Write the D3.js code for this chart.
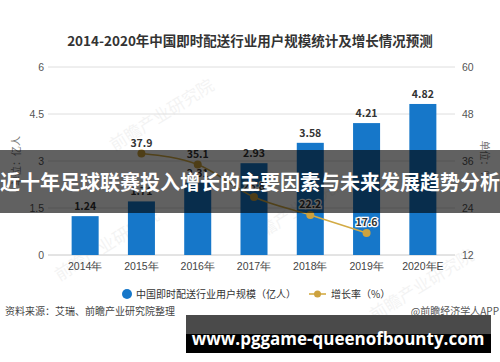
<!DOCTYPE html>
<html>
<head>
<meta charset="utf-8">
<script src="https://cdn.jsdelivr.net/npm/d3@7"></script>
<style>
  html, body { margin: 0; padding: 0; background: #fff; }
  svg { display: block; font-family: "Noto Sans CJK SC", "Noto Sans", sans-serif; }
</style>
</head>
<body>
<svg width="500" height="362"></svg>
<script>
const years = ['2014年', '2015年', '2016年', '2017年', '2018年', '2019年', '2020年E'];
const users = [1.24, 1.71, 2.31, 2.93, 3.58, 4.21, 4.82];
const growthYears = ['2015年', '2016年', '2017年', '2018年', '2019年'];
const growth = [37.9, 35.1, 26.8, 22.2, 17.6];
const leftTicks = [0, 1.5, 3, 4.5, 6];
const rightTicks = [12, 24, 36, 48, 60];

const svg = d3.select('svg');

const x = d3.scaleBand().domain(years).range([57, 451]).paddingInner(0.52).paddingOuter(0.26);
const yL = d3.scaleLinear().domain([0, 6]).range([255, 67]);
const yR = d3.scaleLinear().domain([12, 60]).range([255, 67]);

// title
svg.append('text')
  .attr('x', 250).attr('y', 46)
  .attr('text-anchor', 'middle')
  .attr('font-size', 13.5).attr('font-weight', 'bold')
  .attr('fill', '#333')
  .text('2014-2020年中国即时配送行业用户规模统计及增长情况预测');

// faint watermarks
[[165, 120], [300, 215], [425, 290], [110, 250]].forEach(([wx, wy]) => {
  svg.append('text')
    .attr('transform', `translate(${wx},${wy}) rotate(-32)`)
    .attr('text-anchor', 'middle')
    .attr('font-size', 17).attr('fill', '#000').attr('opacity', 0.045)
    .text('前瞻产业研究院');
});

// grid
svg.append('g').selectAll('line').data(leftTicks.slice(1))
  .enter().append('line')
  .attr('x1', 48).attr('x2', 455)
  .attr('y1', d => yL(d)).attr('y2', d => yL(d))
  .attr('stroke', '#dedede').attr('stroke-width', 1);

svg.append('line')
  .attr('x1', 48).attr('x2', 455)
  .attr('y1', yL(0)).attr('y2', yL(0))
  .attr('stroke', '#c8c8c8');

// left axis
const axL = svg.append('g')
  .attr('transform', 'translate(46,0)')
  .call(d3.axisLeft(yL).tickValues(leftTicks).tickSize(0).tickPadding(2).tickFormat(d => d));
axL.select('.domain').remove();
axL.selectAll('text').attr('font-size', 10.5).attr('fill', '#555').attr('font-family', 'inherit');

// right axis
const axR = svg.append('g')
  .attr('transform', 'translate(460,0)')
  .call(d3.axisRight(yR).tickValues(rightTicks).tickSize(0).tickPadding(2));
axR.select('.domain').remove();
axR.selectAll('text').attr('font-size', 10.5).attr('fill', '#555').attr('font-family', 'inherit');

// x axis labels
const axX = svg.append('g')
  .attr('transform', `translate(0,${yL(0)})`)
  .call(d3.axisBottom(x).tickSize(0).tickPadding(8));
axX.select('.domain').remove();
axX.selectAll('text').attr('font-size', 10.5).attr('fill', '#444').attr('font-family', 'inherit');

// axis titles
svg.append('text')
  .attr('transform', 'translate(20,161) rotate(-90)')
  .attr('text-anchor', 'middle')
  .attr('font-size', 10).attr('fill', '#777')
  .text('单位：亿人');
svg.append('text')
  .attr('transform', 'translate(481,160) rotate(90)')
  .attr('text-anchor', 'middle')
  .attr('font-size', 10).attr('fill', '#777')
  .text('单位：%');

// bars
svg.append('g').selectAll('rect').data(users)
  .enter().append('rect')
  .attr('x', (d, i) => x(years[i]))
  .attr('width', x.bandwidth())
  .attr('y', d => yL(d))
  .attr('height', d => yL(0) - yL(d))
  .attr('fill', '#1677c9');

svg.append('g').selectAll('text').data(users)
  .enter().append('text')
  .attr('x', (d, i) => x(years[i]) + x.bandwidth() / 2)
  .attr('y', d => yL(d) - 6)
  .attr('text-anchor', 'middle')
  .attr('font-size', 10.5).attr('font-weight', 'bold')
  .attr('fill', '#333')
  .text(d => d.toFixed(2));

// growth line
const lineGen = d3.line()
  .x((d, i) => x(growthYears[i]) + x.bandwidth() / 2)
  .y(d => yR(d))
  .curve(d3.curveMonotoneX);

svg.append('path')
  .datum(growth)
  .attr('d', lineGen)
  .attr('fill', 'none')
  .attr('stroke', '#d3ab45')
  .attr('stroke-width', 1.6);

svg.append('g').selectAll('circle').data(growth)
  .enter().append('circle')
  .attr('cx', (d, i) => x(growthYears[i]) + x.bandwidth() / 2)
  .attr('cy', d => yR(d))
  .attr('r', 4)
  .attr('fill', '#cda23e');

svg.append('g').selectAll('text').data(growth)
  .enter().append('text')
  .attr('x', (d, i) => x(growthYears[i]) + x.bandwidth() / 2)
  .attr('y', d => yR(d) - 7)
  .attr('text-anchor', 'middle')
  .attr('font-size', 10.5).attr('font-weight', 'bold')
  .attr('fill', '#333')
  .attr('stroke', '#fff').attr('stroke-width', 2.5)
  .attr('paint-order', 'stroke')
  .text(d => d.toFixed(1));

// legend
const lg = svg.append('g');
lg.append('circle').attr('cx', 127).attr('cy', 294).attr('r', 5).attr('fill', '#1677c9');
lg.append('text').attr('x', 136).attr('y', 298)
  .attr('font-size', 10).attr('fill', '#333')
  .text('中国即时配送行业用户规模（亿人）');
lg.append('line').attr('x1', 309).attr('x2', 326).attr('y1', 294).attr('y2', 294)
  .attr('stroke', '#d3ab45').attr('stroke-width', 1.6);
lg.append('circle').attr('cx', 317.5).attr('cy', 294).attr('r', 3.5).attr('fill', '#cda23e');
lg.append('text').attr('x', 331).attr('y', 298)
  .attr('font-size', 10).attr('fill', '#333')
  .text('增长率（%）');

// source
svg.append('text').attr('x', 5).attr('y', 315)
  .attr('font-size', 10).attr('fill', '#444')
  .text('资料来源：艾瑞、前瞻产业研究院整理');
svg.append('text').attr('x', 499).attr('y', 315)
  .attr('text-anchor', 'end')
  .attr('font-size', 10).attr('fill', '#555')
  .text('@前瞻经济学人APP');

// overlay banner
svg.append('rect')
  .attr('x', 0).attr('y', 150).attr('width', 500).attr('height', 63)
  .attr('fill', '#000').attr('opacity', 0.62);
svg.append('text')
  .attr('x', 250).attr('y', 190)
  .attr('text-anchor', 'middle')
  .attr('font-size', 20).attr('font-weight', 'bold')
  .attr('fill', '#fff')
  .text('近十年足球联赛投入增长的主要因素与未来发展趋势分析');

// bottom url box
svg.append('rect')
  .attr('x', 186).attr('y', 315).attr('width', 305).attr('height', 19)
  .attr('fill', '#4a4a4a');
svg.append('rect')
  .attr('x', 186).attr('y', 334).attr('width', 305).attr('height', 19)
  .attr('fill', '#000');
svg.append('text')
  .attr('x', 338).attr('y', 345)
  .attr('text-anchor', 'middle')
  .attr('font-size', 17).attr('font-weight', 'bold')
  .attr('font-family', '"Open Sans", "Noto Sans", sans-serif')
  .attr('fill', '#fff')
  .text('www.pggame-queenofbounty.com');
</script>
</body>
</html>
